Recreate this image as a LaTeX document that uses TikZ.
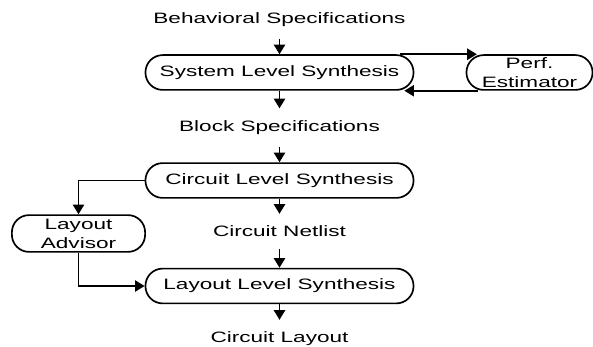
\documentclass[tikz,border=0pt]{standalone}
\usepackage{fontspec}
\setmainfont{Liberation Sans}[FakeStretch=1.5]
\usetikzlibrary{arrows.meta}

\begin{document}
\begin{tikzpicture}[x=0.025cm, y=-0.025cm,
    font=\fontsize{10.7}{13.4}\selectfont,
    stage/.style={draw, line width=1.2pt, rounded corners=0.43cm, inner sep=1pt,
        minimum width=6.7cm, minimum height=0.87cm, align=center},
    spec/.style={inner xsep=2pt, inner ysep=0.3cm},
    arr/.style={line width=1.2pt, -{Triangle[length=0.24cm,width=0.28cm]}}]

    \useasboundingbox (0,0) rectangle (593,347);

    % Main flow
    \node[spec, anchor=base] (behav) at (279.5,24) {Behavioral Specifications};
    \node[stage] (sys) at (279.5,72.5) {System Level Synthesis};
    \node[spec, anchor=base] (block) at (279.5,131.5) {Block Specifications};
    \node[stage] (circ) at (279.5,180.5) {Circuit Level Synthesis};
    \node[spec, anchor=base] (netlist) at (279.5,237) {Circuit Netlist};
    \node[stage] (lay) at (279.5,286) {Layout Level Synthesis};
    \node[spec, anchor=base] (layout) at (279.5,343) {Circuit Layout};

    % Side boxes
    \node[stage, minimum width=3.15cm] (est) at (529.5,72.5) {Perf.\\Estimator};
    \node[stage, minimum width=3.33cm, minimum height=0.92cm] (adv) at (78.5,233.5) {Layout\\Advisor};

    % Arrows down the middle
    \draw[arr] (behav) -- (sys);
    \draw[arr] (sys) -- (block);
    \draw[arr] (block) -- (circ);
    \draw[arr] (circ) -- (netlist);
    \draw[arr] (netlist) -- (lay);
    \draw[arr] (lay) -- (layout);

    % Estimator loop
    \draw[arr] ([xshift=-0.35cm]sys.north east) -- ([xshift=0.28cm]est.north west);
    \draw[arr] ([xshift=0.32cm]est.south west) -- ([xshift=-0.25cm]sys.south east);

    % Advisor detour
    \draw[arr] (circ.west) -| (adv.north);
    \draw[arr] (adv.south) |- (lay.west);

\end{tikzpicture}
\end{document}
